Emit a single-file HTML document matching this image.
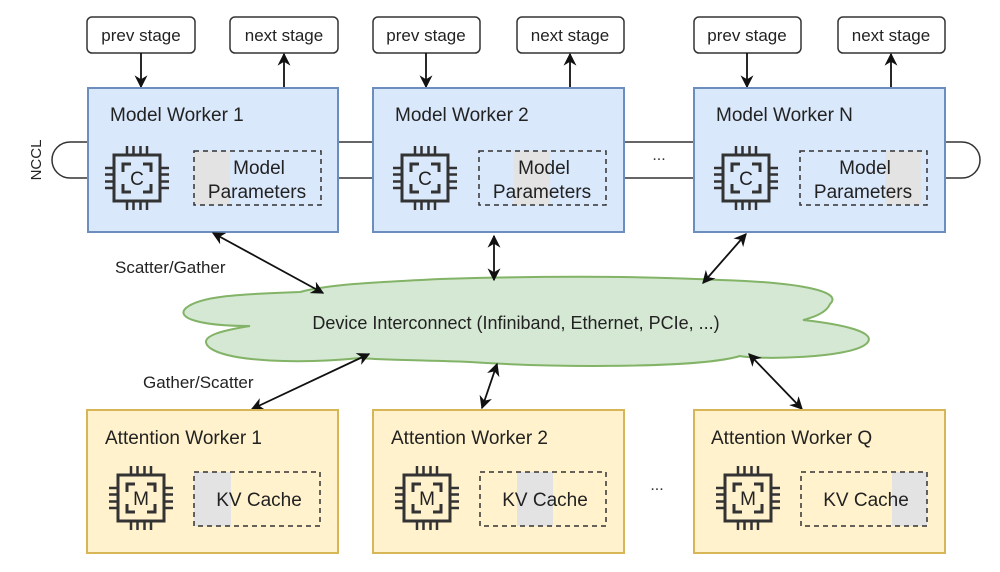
<!DOCTYPE html>
<html><head><meta charset="utf-8"><style>
html,body{margin:0;padding:0;background:#fff}
svg{display:block;font-family:"Liberation Sans",Arial,sans-serif}
</style></head><body>
<svg width="1000" height="572" viewBox="0 0 1000 572" xmlns="http://www.w3.org/2000/svg">
<defs>
<marker id="ah" viewBox="0 0 10 10" refX="9" refY="5" markerWidth="13" markerHeight="13" orient="auto-start-reverse" markerUnits="userSpaceOnUse"><path d="M0,0 L10,5 L0,10 L3,5 z" fill="#111"/></marker>
<g id="chip" fill="none" stroke="#333" stroke-width="3">
<rect x="-23" y="-23" width="46" height="46"/>
<path d="M-14,-6 V-14 H-6 M6,-14 H14 V-6 M14,6 V14 H6 M-6,14 H-14 V6" />
<path d="M-10,-23 V-32 M-3.5,-23 V-32 M3.5,-23 V-32 M10,-23 V-32 M-10,23 V32 M-3.5,23 V32 M3.5,23 V32 M10,23 V32 M-23,-10 H-32 M-23,-3.5 H-32 M-23,3.5 H-32 M-23,10 H-32 M23,-10 H32 M23,-3.5 H32 M23,3.5 H32 M23,10 H32" stroke-width="2.5"/>
</g>
</defs>
<g fill="none" stroke="#333" stroke-width="1.5">
<path d="M88,142 H70 A18,18 0 0 0 70,178 H88"/>
<path d="M945,142 H962 A18,18 0 0 1 962,178 H945"/>
<path d="M338,142 H373 M338,178 H373 M624,142 H694 M624,178 H694"/>
</g>
<text x="41" y="160" font-size="15" fill="#222" text-anchor="middle" transform="rotate(-90 41 160)">NCCL</text>
<text x="659" y="160" font-size="16" fill="#333" text-anchor="middle">...</text>
<g fill="#fff" stroke="#333" stroke-width="1.5">
<rect x="87" y="17" width="108" height="36" rx="5"/><rect x="230" y="17" width="108" height="36" rx="5"/>
<rect x="373" y="17" width="107" height="36" rx="5"/><rect x="517" y="17" width="107" height="36" rx="5"/>
<rect x="694" y="17" width="107" height="36" rx="5"/><rect x="838" y="17" width="107" height="36" rx="5"/>
</g>
<g font-size="17" fill="#222" text-anchor="middle">
<text x="141" y="41">prev stage</text><text x="284" y="41">next stage</text>
<text x="426" y="41">prev stage</text><text x="570" y="41">next stage</text>
<text x="747" y="41">prev stage</text><text x="891" y="41">next stage</text>
</g>
<g stroke="#111" stroke-width="1.8" fill="none">
<line x1="141" y1="53" x2="141" y2="87" marker-end="url(#ah)"/>
<line x1="284" y1="88" x2="284" y2="54" marker-end="url(#ah)"/>
<line x1="426" y1="53" x2="426" y2="87" marker-end="url(#ah)"/>
<line x1="570" y1="88" x2="570" y2="54" marker-end="url(#ah)"/>
<line x1="747" y1="53" x2="747" y2="87" marker-end="url(#ah)"/>
<line x1="891" y1="88" x2="891" y2="54" marker-end="url(#ah)"/>
</g>
<g fill="#dae8fc" stroke="#6c8ebf" stroke-width="2">
<rect x="88" y="88" width="250" height="144"/>
<rect x="373" y="88" width="251" height="144"/>
<rect x="694" y="88" width="251" height="144"/>
</g>
<g fill="#e3e3e3">
<rect x="194" y="151" width="36" height="54"/>
<rect x="514" y="151" width="36" height="54"/>
<rect x="885" y="151" width="36" height="54"/>
</g>
<g fill="none" stroke="#333" stroke-width="1.5" stroke-dasharray="5,4">
<rect x="194" y="151" width="127" height="54"/>
<rect x="479" y="151" width="127" height="54"/>
<rect x="800" y="151" width="127" height="54"/>
</g>
<use href="#chip" x="137" y="178"/><use href="#chip" x="425" y="178"/><use href="#chip" x="746" y="178"/>
<g font-size="19" fill="#222">
<text x="110" y="121">Model Worker 1</text>
<text x="395" y="121">Model Worker 2</text>
<text x="716" y="121">Model Worker N</text>
</g>
<g font-size="19" fill="#222" text-anchor="middle">
<text x="137" y="185">C</text><text x="425" y="185">C</text><text x="746" y="185">C</text>
<text x="259" y="174">Model</text><text x="257" y="198">Parameters</text>
<text x="544" y="174">Model</text><text x="542" y="198">Parameters</text>
<text x="865" y="174">Model</text><text x="863" y="198">Parameters</text>
</g>
<path d="M250,326 C200,326 175,318 186,308 C200,296 240,294 300,292 C330,284 380,282 440,279 C540,276 640,276 720,280 C790,282 845,290 830,304 C826,314 810,318 803,320 C840,324 880,332 866,344 C850,358 760,360 740,356 C700,368 560,368 470,362 C420,360 380,360 360,358 C300,364 230,362 210,348 C195,336 225,330 250,326 Z" fill="#d5e8d4" stroke="#82b366" stroke-width="2"/>
<text x="516" y="329" font-size="18" fill="#222" text-anchor="middle">Device Interconnect (Infiniband, Ethernet, PCIe, ...)</text>
<g stroke="#111" stroke-width="1.8" fill="none" marker-start="url(#ah)" marker-end="url(#ah)">
<line x1="213" y1="233" x2="323" y2="293"/>
<line x1="494" y1="236" x2="494" y2="280"/>
<line x1="746" y1="234" x2="703" y2="283"/>
<line x1="369" y1="354" x2="252" y2="409"/>
<line x1="497" y1="364" x2="482" y2="408"/>
<line x1="749" y1="354" x2="802" y2="409"/>
</g>
<text x="115" y="273" font-size="17" fill="#222">Scatter/Gather</text>
<text x="143" y="388" font-size="17" fill="#222">Gather/Scatter</text>
<g fill="#fff2cc" stroke="#d6b656" stroke-width="2">
<rect x="87" y="410" width="251" height="143"/>
<rect x="373" y="410" width="251" height="143"/>
<rect x="694" y="410" width="251" height="143"/>
</g>
<g fill="#e3e3e3">
<rect x="194" y="472" width="37" height="54"/>
<rect x="517" y="472" width="36" height="54"/>
<rect x="892" y="472" width="35" height="54"/>
</g>
<g fill="none" stroke="#333" stroke-width="1.5" stroke-dasharray="5,4">
<rect x="194" y="472" width="126" height="54"/>
<rect x="480" y="472" width="126" height="54"/>
<rect x="801" y="472" width="126" height="54"/>
</g>
<use href="#chip" x="141" y="498"/><use href="#chip" x="427" y="498"/><use href="#chip" x="748" y="498"/>
<g font-size="19" fill="#222">
<text x="105" y="444">Attention Worker 1</text>
<text x="391" y="444">Attention Worker 2</text>
<text x="711" y="444">Attention Worker Q</text>
</g>
<g font-size="19" fill="#222" text-anchor="middle">
<text x="141" y="505">M</text><text x="427" y="505">M</text><text x="748" y="505">M</text>
<text x="259" y="506">KV Cache</text><text x="545" y="506">KV Cache</text><text x="866" y="506">KV Cache</text>
</g>
<text x="657" y="490" font-size="16" fill="#333" text-anchor="middle">...</text>
</svg>
</body></html>
